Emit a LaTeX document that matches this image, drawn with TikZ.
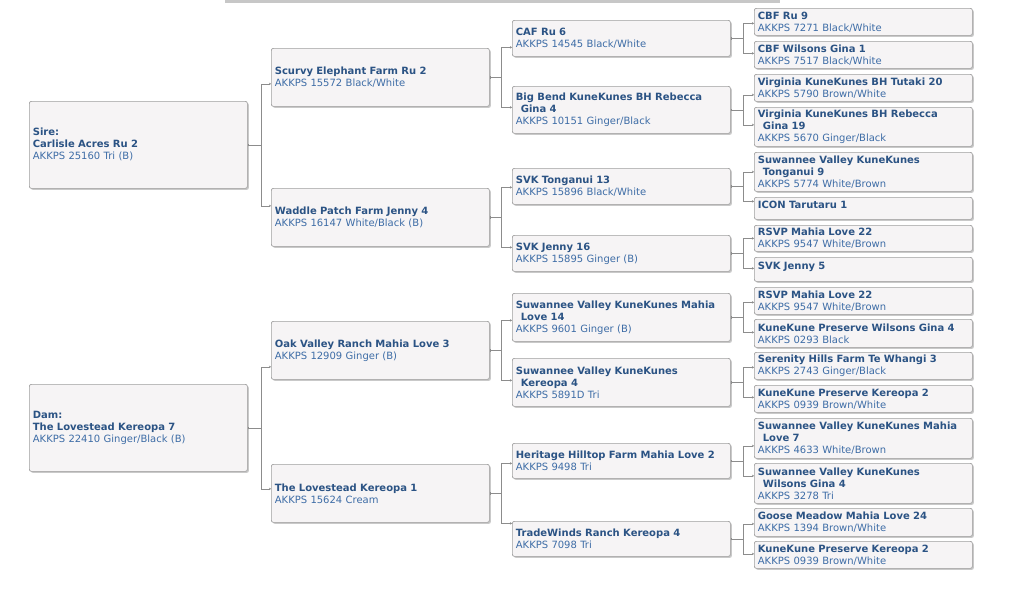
\documentclass[tikz,border=0pt]{standalone}
\usepackage{fontspec}
\setmainfont{DejaVu Sans}
\usetikzlibrary{arrows.meta,shadows}
\definecolor{nameblue}{HTML}{2B5384}
\definecolor{regblue}{HTML}{3D6CA6}
\definecolor{boxfill}{HTML}{F6F4F5}
\definecolor{boxline}{HTML}{9E9E9E}
\definecolor{linkgray}{HTML}{8C8C8C}
\newcommand{\pigname}[1]{\textbf{\textcolor{nameblue}{#1}}}

\begin{document}
\begin{tikzpicture}[x=1pt,y=-1pt,
    pig/.style={draw=boxline, fill=boxfill, rounded corners=2pt, line width=0.7pt,
        drop shadow={shadow xshift=1.5pt,shadow yshift=-1.5pt,opacity=0.3,fill=black!70},
        anchor=north west, inner xsep=3.5pt, inner ysep=0pt, text width=211pt,
        align=left, text=regblue, font=\fontsize{10}{12}\selectfont},
    link/.style={draw=linkgray, line width=0.5pt,
        arrows={Bar[width=2.5pt]-Stealth[length=2pt,width=2.5pt]}}]
    \useasboundingbox (0,0) rectangle (1024,590);
    \fill[black!22] (225,0) rectangle (780,2.5);

    % parents
    \node[pig, minimum height=87] (sire) at (29,101) {\pigname{Sire:}\\ \pigname{Carlisle Acres Ru 2}\\ AKKPS 25160 Tri (B)};
    \node[pig, minimum height=87] (dam) at (29,384) {\pigname{Dam:}\\ \pigname{The Lovestead Kereopa 7}\\ AKKPS 22410 Ginger/Black (B)};

    % grandparents
    \node[pig, minimum height=58] (scurvy) at (271,48) {\pigname{Scurvy Elephant Farm Ru 2}\\ AKKPS 15572 Black/White};
    \node[pig, minimum height=58] (waddle) at (271,188) {\pigname{Waddle Patch Farm Jenny 4}\\ AKKPS 16147 White/Black (B)};
    \node[pig, minimum height=58] (oak) at (271,321) {\pigname{Oak Valley Ranch Mahia Love 3}\\ AKKPS 12909 Ginger (B)};
    \node[pig, minimum height=58] (lovek1) at (271,464) {\pigname{The Lovestead Kereopa 1}\\ AKKPS 15624 Cream};

    % great-grandparents
    \node[pig, minimum height=36] (caf) at (512,20) {\pigname{CAF Ru 6}\\ AKKPS 14545 Black/White};
    \node[pig, minimum height=47] (bigbend) at (512,86) {\pigname{Big Bend KuneKunes BH Rebecca}\\ \pigname{\hspace*{5pt}Gina 4}\\ AKKPS 10151 Ginger/Black};
    \node[pig, minimum height=36] (tong13) at (512,168) {\pigname{SVK Tonganui 13}\\ AKKPS 15896 Black/White};
    \node[pig, minimum height=36] (jenny16) at (512,235) {\pigname{SVK Jenny 16}\\ AKKPS 15895 Ginger (B)};
    \node[pig, minimum height=48] (mahia14) at (512,293) {\pigname{Suwannee Valley KuneKunes Mahia}\\ \pigname{\hspace*{5pt}Love 14}\\ AKKPS 9601 Ginger (B)};
    \node[pig, minimum height=48] (kereopa4) at (512,358) {\pigname{Suwannee Valley KuneKunes}\\ \pigname{\hspace*{5pt}Kereopa 4}\\ AKKPS 5891D Tri};
    \node[pig, minimum height=35] (heritage) at (512,443) {\pigname{Heritage Hilltop Farm Mahia Love 2}\\ AKKPS 9498 Tri};
    \node[pig, minimum height=35] (trade) at (512,521) {\pigname{TradeWinds Ranch Kereopa 4}\\ AKKPS 7098 Tri};

    % great-great-grandparents
    \node[pig, minimum height=27] (cbfru) at (754,8) {\pigname{CBF Ru 9}\\ AKKPS 7271 Black/White};
    \node[pig, minimum height=27] (cbfgina) at (754,41) {\pigname{CBF Wilsons Gina 1}\\ AKKPS 7517 Black/White};
    \node[pig, minimum height=27] (tutaki) at (754,74) {\pigname{Virginia KuneKunes BH Tutaki 20}\\ AKKPS 5790 Brown/White};
    \node[pig, minimum height=39] (rebecca) at (754,107) {\pigname{Virginia KuneKunes BH Rebecca}\\ \pigname{\hspace*{5pt}Gina 19}\\ AKKPS 5670 Ginger/Black};
    \node[pig, minimum height=39] (tong9) at (754,152) {\pigname{Suwannee Valley KuneKunes}\\ \pigname{\hspace*{5pt}Tonganui 9}\\ AKKPS 5774 White/Brown};
    \node[pig, minimum height=22, text depth=7pt] (icon) at (754,197) {\pigname{ICON Tarutaru 1}};
    \node[pig, minimum height=26] (rsvpa) at (754,225) {\pigname{RSVP Mahia Love 22}\\ AKKPS 9547 White/Brown};
    \node[pig, minimum height=24, text depth=7pt] (jenny5) at (754,257) {\pigname{SVK Jenny 5}};
    \node[pig, minimum height=27] (rsvpb) at (754,287) {\pigname{RSVP Mahia Love 22}\\ AKKPS 9547 White/Brown};
    \node[pig, minimum height=28] (kkgina) at (754,319) {\pigname{KuneKune Preserve Wilsons Gina 4}\\ AKKPS 0293 Black};
    \node[pig, minimum height=27] (serenity) at (754,352) {\pigname{Serenity Hills Farm Te Whangi 3}\\ AKKPS 2743 Ginger/Black};
    \node[pig, minimum height=27] (kkkera) at (754,385) {\pigname{KuneKune Preserve Kereopa 2}\\ AKKPS 0939 Brown/White};
    \node[pig, minimum height=40] (mahia7) at (754,418) {\pigname{Suwannee Valley KuneKunes Mahia}\\ \pigname{\hspace*{5pt}Love 7}\\ AKKPS 4633 White/Brown};
    \node[pig, minimum height=40] (svgina) at (754,463) {\pigname{Suwannee Valley KuneKunes}\\ \pigname{\hspace*{5pt}Wilsons Gina 4}\\ AKKPS 3278 Tri};
    \node[pig, minimum height=28] (goose) at (754,508) {\pigname{Goose Meadow Mahia Love 24}\\ AKKPS 1394 Brown/White};
    \node[pig, minimum height=27] (kkkerb) at (754,541) {\pigname{KuneKune Preserve Kereopa 2}\\ AKKPS 0939 Brown/White};

    % links
    \draw[link] (sire.east) -- ++(14,0) |- ([yshift=-6.5pt]scurvy.west);
    \draw[link] (sire.east) -- ++(14,0) |- ([yshift=11.5pt]waddle.west);
    \draw[link] (dam.east) -- ++(14,0) |- ([yshift=-16.5pt]oak.west);
    \draw[link] (dam.east) -- ++(14,0) |- ([yshift=4.5pt]lovek1.west);

    \draw[link] (scurvy.east) -- ++(12,0) |- ([yshift=-9pt]caf.west);
    \draw[link] (scurvy.east) -- ++(12,0) |- ([yshift=2.5pt]bigbend.west);
    \draw[link] (waddle.east) -- ++(12,0) |- ([yshift=-1pt]tong13.west);
    \draw[link] (waddle.east) -- ++(12,0) |- ([yshift=6pt]jenny16.west);
    \draw[link] (oak.east) -- ++(12,0) |- ([yshift=-3pt]mahia14.west);
    \draw[link] (oak.east) -- ++(12,0) |- ([yshift=2pt]kereopa4.west);
    \draw[link] (lovek1.east) -- ++(12,0) |- ([yshift=-2.5pt]heritage.west);
    \draw[link] (lovek1.east) -- ++(12,0) |- ([yshift=15.5pt]trade.west);

    \draw[link] (caf.east) -- ++(12.5,0) |- ([yshift=-1.5pt]cbfru.west);
    \draw[link] (caf.east) -- ++(12.5,0) |- ([yshift=1.5pt]cbfgina.west);
    \draw[link] (bigbend.east) -- ++(12.5,0) |- ([yshift=-7pt]tutaki.west);
    \draw[link] (bigbend.east) -- ++(12.5,0) |- ([yshift=2pt]rebecca.west);
    \draw[link] (tong13.east) -- ++(12.5,0) |- (tong9.west);
    \draw[link] (tong13.east) -- ++(12.5,0) |- ([yshift=7pt]icon.west);
    \draw[link] (jenny16.east) -- ++(12.5,0) |- (rsvpa.west);
    \draw[link] (jenny16.east) -- ++(12.5,0) |- ([yshift=1pt]jenny5.west);
    \draw[link] (mahia14.east) -- ++(12.5,0) |- ([yshift=-1.5pt]rsvpb.west);
    \draw[link] (mahia14.east) -- ++(12.5,0) |- ([yshift=1pt]kkgina.west);
    \draw[link] (kereopa4.east) -- ++(12.5,0) |- ([yshift=-1.5pt]serenity.west);
    \draw[link] (kereopa4.east) -- ++(12.5,0) |- ([yshift=1.5pt]kkkera.west);
    \draw[link] (heritage.east) -- ++(12.5,0) |- ([yshift=-7.5pt]mahia7.west);
    \draw[link] (heritage.east) -- ++(12.5,0) |- ([yshift=7.5pt]svgina.west);
    \draw[link] (trade.east) -- ++(12.5,0) |- ([yshift=-1.5pt]goose.west);
    \draw[link] (trade.east) -- ++(12.5,0) |- ([yshift=1pt]kkkerb.west);
\end{tikzpicture}
\end{document}
